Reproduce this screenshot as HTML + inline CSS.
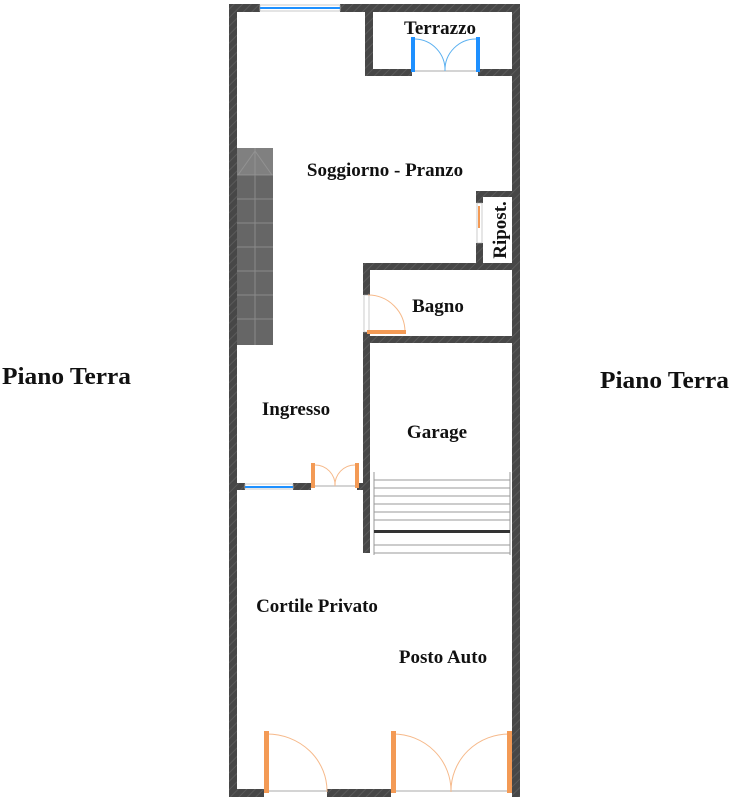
<!DOCTYPE html>
<html><head><meta charset="utf-8"><style>
html,body{margin:0;padding:0;background:#fff;}
svg{display:block;}
text{font-family:"Liberation Serif",serif;font-weight:bold;fill:#111;}
</style></head><body>
<svg width="748" height="800" viewBox="0 0 748 800" xmlns="http://www.w3.org/2000/svg">
<defs>
<pattern id="h" width="6" height="6" patternUnits="userSpaceOnUse" patternTransform="rotate(45)">
<rect width="6" height="6" fill="#474747"/><rect width="1" height="6" fill="#5a5a5a"/>
</pattern>
</defs>
<g fill="url(#h)">
<rect x="229" y="4" width="31" height="8"/>
<rect x="340" y="4" width="180" height="8"/>
<rect x="229" y="4" width="8" height="793"/>
<rect x="512" y="4" width="8" height="793"/>
<rect x="229" y="789" width="35" height="8"/>
<rect x="327" y="789" width="64" height="8"/>
<rect x="512" y="789" width="8" height="8"/>
<rect x="365" y="4" width="8" height="72"/>
<rect x="365" y="69" width="47" height="7"/>
<rect x="478" y="69" width="42" height="7"/>
<rect x="476" y="191" width="44" height="6"/>
<rect x="476" y="191" width="7" height="12"/>
<rect x="476" y="243" width="7" height="27"/>
<rect x="363" y="263" width="157" height="7"/>
<rect x="363" y="263" width="7" height="32"/>
<rect x="363" y="336" width="157" height="7"/>
<rect x="363" y="332" width="7" height="221"/>
<rect x="229" y="483" width="16" height="7"/>
<rect x="293" y="483" width="18" height="7"/>
<rect x="357" y="483" width="13" height="7"/>
</g>
<rect x="260" y="5" width="80" height="6" fill="#fff" stroke="#bbb" stroke-width="0.8"/>
<rect x="260" y="7" width="80" height="2" fill="#1e90ff"/>
<rect x="245" y="484" width="48" height="5" fill="#fff" stroke="#bbb" stroke-width="0.8"/>
<rect x="245" y="486" width="48" height="2" fill="#1e90ff"/>
<line x1="412" y1="71" x2="478" y2="71" stroke="#aaa"/>
<path d="M415 39 A31 31 0 0 1 445 71 M477 39 A31 31 0 0 0 445 71" fill="none" stroke="#5ab0f0" stroke-width="1"/>
<rect x="411" y="37" width="4" height="35" fill="#1e90ff"/>
<rect x="476" y="37" width="4" height="35" fill="#1e90ff"/>
<rect x="477" y="203" width="5" height="40" fill="#fff" stroke="#aaa" stroke-width="0.6"/>
<rect x="478" y="206" width="2" height="22" fill="#f39a55"/>
<rect x="364" y="295" width="5" height="37" fill="#fff" stroke="#aaa" stroke-width="0.6"/>
<path d="M368 295 A37 37 0 0 1 405 332" fill="none" stroke="#f6b98a" stroke-width="1"/>
<rect x="367" y="330" width="39" height="4" fill="#f39a55"/>
<line x1="313" y1="486" x2="357" y2="486" stroke="#aaa"/>
<path d="M315 465 A20 20 0 0 1 335 486 M355 465 A20 20 0 0 0 335 486" fill="none" stroke="#f6b98a"/>
<rect x="311" y="463" width="4" height="25" fill="#f39a55"/>
<rect x="355" y="463" width="4" height="25" fill="#f39a55"/>
<rect x="237" y="148" width="36" height="197" fill="#666"/>
<g stroke="#8a8a8a" stroke-width="1" fill="none">
<line x1="255" y1="148" x2="255" y2="345"/>
<line x1="237" y1="175" x2="273" y2="175"/>
<line x1="237" y1="199" x2="273" y2="199"/>
<line x1="237" y1="223" x2="273" y2="223"/>
<line x1="237" y1="247" x2="273" y2="247"/>
<line x1="237" y1="271" x2="273" y2="271"/>
<line x1="237" y1="295" x2="273" y2="295"/>
<line x1="237" y1="319" x2="273" y2="319"/>
<path d="M238 175 L255 151 L272 175"/>
</g>
<rect x="237" y="148" width="36" height="27" fill="#9a9a9a" opacity="0.5"/>
<g stroke="#999" stroke-width="1">
<line x1="374" y1="472" x2="374" y2="555"/><line x1="510" y1="472" x2="510" y2="555"/>
<line x1="374" y1="480" x2="510" y2="480"/><line x1="374" y1="488" x2="510" y2="488"/>
<line x1="374" y1="496" x2="510" y2="496"/><line x1="374" y1="504" x2="510" y2="504"/>
<line x1="374" y1="512" x2="510" y2="512"/><line x1="374" y1="520" x2="510" y2="520"/>
<line x1="374" y1="545" x2="510" y2="545"/><line x1="374" y1="553" x2="510" y2="553"/>
</g>
<rect x="374" y="530" width="136" height="3" fill="#333"/>
<line x1="264" y1="791" x2="327" y2="791" stroke="#aaa"/>
<line x1="391" y1="791" x2="512" y2="791" stroke="#aaa"/>
<path d="M267 734 A60 57 0 0 1 327 792" fill="none" stroke="#f6b98a"/>
<path d="M393 734 A58 57 0 0 1 451 792 M510 734 A58 57 0 0 0 451 792" fill="none" stroke="#f6b98a"/>
<rect x="264" y="731" width="5" height="62" fill="#f39a55"/>
<rect x="391" y="731" width="5" height="62" fill="#f39a55"/>
<rect x="507" y="731" width="5" height="62" fill="#f39a55"/>
<text x="440" y="34" font-size="19" text-anchor="middle">Terrazzo</text>
<text x="385" y="176" font-size="19" text-anchor="middle">Soggiorno - Pranzo</text>
<text transform="translate(506,230) rotate(-90)" font-size="19" text-anchor="middle">Ripost.</text>
<text x="438" y="312" font-size="19" text-anchor="middle">Bagno</text>
<text x="296" y="415" font-size="19" text-anchor="middle">Ingresso</text>
<text x="437" y="438" font-size="19" text-anchor="middle">Garage</text>
<text x="317" y="612" font-size="19" text-anchor="middle">Cortile Privato</text>
<text x="443" y="663" font-size="19" text-anchor="middle">Posto Auto</text>
<text x="2" y="384" font-size="24" textLength="129" lengthAdjust="spacingAndGlyphs">Piano Terra</text>
<text x="600" y="388" font-size="24" textLength="129" lengthAdjust="spacingAndGlyphs">Piano Terra</text>
</svg>
</body></html>
